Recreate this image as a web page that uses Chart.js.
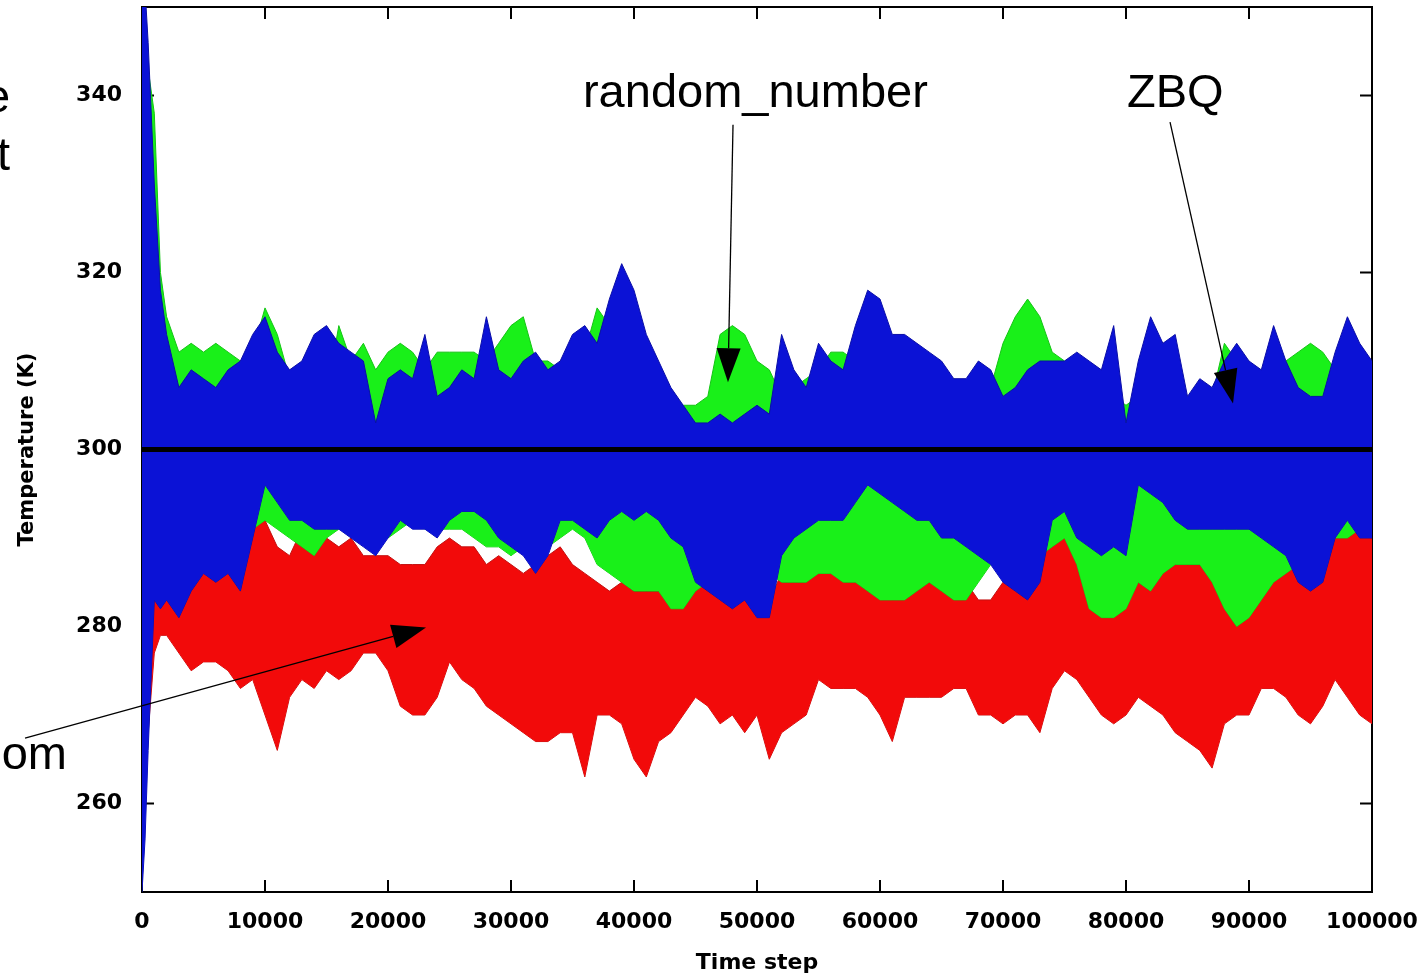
<!DOCTYPE html>
<html>
<head>
<meta charset="utf-8">
<script src="https://cdn.jsdelivr.net/npm/chart.js@4.4.1/dist/chart.umd.min.js"></script>
<style>
  html, body { margin: 0; padding: 0; background: #fff; overflow: hidden; }
  #wrap { width: 1470px; height: 979px; }
</style>
</head>
<body>
<div id="wrap"><canvas id="tempGraph" width="1470" height="979"></canvas></div>
<script>
// time steps (x) and upper/lower envelopes of each noisy trace
const steps = [0, 250, 500, 1000, 1500,
  2000, 3000, 4000, 5000, 6000, 7000, 8000, 9000, 10000, 11000,
  12000, 13000, 14000, 15000, 16000, 17000, 18000, 19000, 20000, 21000,
  22000, 23000, 24000, 25000, 26000, 27000, 28000, 29000, 30000, 31000,
  32000, 33000, 34000, 35000, 36000, 37000, 38000, 39000, 40000, 41000,
  42000, 43000, 44000, 45000, 46000, 47000, 48000, 49000, 50000, 51000,
  52000, 53000, 54000, 55000, 56000, 57000, 58000, 59000, 60000, 61000,
  62000, 63000, 64000, 65000, 66000, 67000, 68000, 69000, 70000, 71000,
  72000, 73000, 74000, 75000, 76000, 77000, 78000, 79000, 80000, 81000,
  82000, 83000, 84000, 85000, 86000, 87000, 88000, 89000, 90000, 91000,
  92000, 93000, 94000, 95000, 96000, 97000, 98000, 99000, 100000];

// ZBQ (blue)
const blueHi = [352, 352, 346, 330, 318,
  313, 307, 309, 308, 307, 309, 310, 313, 315, 311,
  309, 310, 313, 314, 312, 311, 310, 303, 308, 309,
  308, 313, 306, 307, 309, 308, 315, 309, 308, 310,
  311, 309, 310, 313, 314, 312, 317, 321, 318, 313,
  310, 307, 305, 303, 303, 304, 303, 304, 305, 304,
  313, 309, 307, 312, 310, 309, 314, 318, 317, 313,
  313, 312, 311, 310, 308, 308, 310, 309, 306, 307,
  309, 310, 310, 310, 311, 310, 309, 314, 303, 310,
  315, 312, 313, 306, 308, 307, 310, 312, 310, 309,
  314, 310, 307, 306, 306, 311, 315, 312, 310];
const blueLo = [250, 256, 266, 283, 282,
  283, 281, 284, 286, 285, 286, 284, 290, 296, 294,
  292, 292, 291, 291, 291, 290, 289, 288, 290, 292,
  291, 291, 290, 292, 293, 293, 292, 290, 289, 288,
  286, 288, 292, 292, 291, 290, 292, 293, 292, 293,
  292, 290, 289, 285, 284, 283, 282, 283, 281, 281,
  288, 290, 291, 292, 292, 292, 294, 296, 295, 294,
  293, 292, 292, 290, 290, 289, 288, 287, 285, 284,
  283, 285, 292, 293, 290, 289, 288, 289, 288, 296,
  295, 294, 292, 291, 291, 291, 291, 291, 291, 290,
  289, 288, 285, 284, 285, 290, 292, 290, 290];

// random_number (green)
const greenHi = [300, 338, 343, 338, 320,
  315, 311, 312, 311, 312, 311, 310, 311, 316, 313,
  308, 306, 307, 306, 314, 310, 312, 309, 311, 312,
  311, 309, 311, 311, 311, 311, 310, 312, 314, 315,
  310, 310, 309, 310, 311, 316, 314, 313, 312, 309,
  308, 306, 305, 305, 306, 313, 314, 313, 310, 309,
  306, 307, 308, 309, 311, 311, 310, 311, 310, 310,
  309, 309, 309, 308, 308, 307, 307, 307, 312, 315,
  317, 315, 311, 310, 310, 308, 307, 306, 305, 306,
  307, 306, 306, 305, 306, 306, 312, 310, 308, 307,
  308, 310, 311, 312, 311, 309, 309, 310, 310];
const greenLo = [256, 262, 272, 286, 288,
  289, 289, 290, 291, 291, 290, 290, 291, 292, 291,
  290, 289, 288, 290, 291, 291, 290, 291, 290, 291,
  292, 291, 291, 291, 291, 290, 289, 289, 288, 289,
  289, 289, 290, 291, 290, 287, 286, 285, 284, 284,
  284, 282, 282, 284, 285, 286, 287, 288, 288, 286,
  285, 285, 285, 286, 286, 285, 285, 284, 283, 283,
  283, 284, 285, 284, 283, 283, 285, 287, 288, 288,
  288, 288, 289, 290, 287, 282, 281, 281, 282, 285,
  284, 286, 287, 287, 287, 285, 282, 280, 281, 283,
  285, 286, 287, 288, 289, 290, 290, 291, 292];

// random (red)
const redHi = [263, 268, 285, 296, 296,
  295, 292, 291, 290, 291, 290, 291, 292, 292, 289,
  288, 291, 292, 290, 289, 290, 288, 288, 288, 287,
  287, 287, 289, 290, 289, 289, 287, 288, 287, 286,
  287, 288, 289, 287, 286, 285, 284, 285, 284, 284,
  284, 285, 286, 286, 285, 284, 284, 283, 283, 283,
  286, 286, 286, 286, 287, 286, 287, 290, 291, 287,
  286, 288, 288, 287, 285, 285, 283, 283, 285, 287,
  287, 287, 291, 292, 291, 285, 284, 284, 285, 285,
  284, 287, 288, 287, 287, 286, 284, 283, 283, 285,
  289, 288, 289, 289, 288, 290, 292, 291, 290];
const redLo = [258, 259, 268, 277, 279,
  279, 277, 275, 276, 276, 275, 273, 274, 270, 266,
  272, 274, 273, 275, 274, 275, 277, 277, 275, 271,
  270, 270, 272, 276, 274, 273, 271, 270, 269, 268,
  267, 267, 268, 268, 263, 270, 270, 269, 265, 263,
  267, 268, 270, 272, 271, 269, 270, 268, 270, 265,
  268, 269, 270, 274, 273, 273, 273, 272, 270, 267,
  272, 272, 272, 272, 273, 273, 270, 270, 269, 270,
  270, 268, 273, 275, 274, 272, 270, 269, 270, 272,
  271, 270, 268, 267, 266, 264, 269, 270, 270, 273,
  273, 272, 270, 269, 271, 274, 272, 270, 269];

const targetTemp = 300;
const xTicks = [0, 10000, 20000, 30000, 40000, 50000, 60000, 70000, 80000, 90000, 100000];
const yTicks = [260, 280, 300, 320, 340];

// labels and arrows, given in axis units (time step, K)
const notes = [
  { text: 'random_number', x: 35850, y: 338.7, align: 'left' },
  { text: 'ZBQ', x: 80080, y: 338.7, align: 'left' },
  { text: 'random', x: -6100, y: 263.9, align: 'right' },
  { text: 'temperature', x: -10730, y: 338.1, align: 'right' },
  { text: 'target', x: -10730, y: 331.6, align: 'right' }
];
const arrows = [
  { from: [48050, 336.7], to: [47640, 307.6] },
  { from: [83580, 337.0], to: [88700, 305.2] },
  { from: [-9510, 267.4], to: [23090, 279.9] }
];

const pts = ys => steps.map((s, i) => ({ x: s, y: ys[i] }));
const band = (hi, lo, fillCol, edgeCol) => [
  { data: pts(hi), backgroundColor: fillCol, borderColor: edgeCol, borderWidth: 1, fill: '+1' },
  { data: pts(lo), backgroundColor: fillCol, borderColor: edgeCol, borderWidth: 1, fill: false }
];

const frame = {
  id: 'frame',
  beforeDatasetsDraw(chart) {
    const { ctx, chartArea: a, scales: { x, y } } = chart;
    ctx.save();
    ctx.strokeStyle = '#000';
    ctx.lineWidth = 2;
    ctx.strokeRect(a.left, a.top, a.right - a.left, a.bottom - a.top);
    ctx.beginPath();
    xTicks.forEach(v => {
      const px = x.getPixelForValue(v);
      ctx.moveTo(px, a.bottom); ctx.lineTo(px, a.bottom - 12);
      ctx.moveTo(px, a.top); ctx.lineTo(px, a.top + 12);
    });
    yTicks.forEach(v => {
      const py = y.getPixelForValue(v);
      ctx.moveTo(a.left, py); ctx.lineTo(a.left + 12, py);
      ctx.moveTo(a.right, py); ctx.lineTo(a.right - 12, py);
    });
    ctx.stroke();
    ctx.restore();
  },
  afterDraw(chart) {
    const { ctx, scales: { x, y } } = chart;
    ctx.save();
    ctx.fillStyle = '#000';
    ctx.strokeStyle = '#000';
    ctx.font = '47px "Liberation Sans", Arial, sans-serif';
    ctx.textBaseline = 'alphabetic';
    notes.forEach(n => {
      ctx.textAlign = n.align;
      ctx.fillText(n.text, x.getPixelForValue(n.x), y.getPixelForValue(n.y));
    });
    arrows.forEach(ar => {
      const x0 = x.getPixelForValue(ar.from[0]), y0 = y.getPixelForValue(ar.from[1]);
      const x1 = x.getPixelForValue(ar.to[0]), y1 = y.getPixelForValue(ar.to[1]);
      const ang = Math.atan2(y1 - y0, x1 - x0);
      const len = 34, half = 12;
      const bx = x1 - len * Math.cos(ang), by = y1 - len * Math.sin(ang);
      ctx.lineWidth = 1.3;
      ctx.beginPath();
      ctx.moveTo(x0, y0); ctx.lineTo(bx, by);
      ctx.stroke();
      ctx.beginPath();
      ctx.moveTo(x1, y1);
      ctx.lineTo(bx + half * Math.sin(ang), by - half * Math.cos(ang));
      ctx.lineTo(bx - half * Math.sin(ang), by + half * Math.cos(ang));
      ctx.closePath();
      ctx.fill();
    });
    ctx.restore();
  }
};

const ctx = document.getElementById('tempGraph').getContext('2d');
new Chart(ctx, {
  type: 'line',
  data: {
    datasets: [
      { data: [{ x: 0, y: targetTemp }, { x: 100000, y: targetTemp }], borderColor: '#000', borderWidth: 5, fill: false },
      ...band(blueHi, blueLo, '#0b12d6', '#0a0ea8'),
      ...band(greenHi, greenLo, '#19f019', '#14c414'),
      ...band(redHi, redLo, '#f20a0a', '#c41010')
    ]
  },
  options: {
    responsive: false,
    animation: false,
    devicePixelRatio: 1,
    layout: { autoPadding: false, padding: { left: 0, top: 7, right: 98, bottom: 0 } },
    elements: { point: { radius: 0 }, line: { tension: 0 } },
    plugins: { legend: { display: false }, tooltip: { enabled: false } },
    scales: {
      x: {
        type: 'linear', min: 0, max: 100000,
        grid: { display: false }, border: { display: false },
        afterBuildTicks: a => { a.ticks = xTicks.map(v => ({ value: v })); },
        afterFit: a => { a.height = 87; a.paddingLeft = 0; a.paddingRight = 0; },
        ticks: {
          color: '#000', padding: 9, maxRotation: 0, autoSkip: false,
          font: { family: 'DejaVu Sans', weight: 'bold', size: 22 },
          callback: v => String(v)
        },
        title: {
          display: true, text: 'Time step', color: '#000',
          font: { family: 'DejaVu Sans', weight: 'bold', size: 22 },
          padding: { top: 0, bottom: 3 }
        }
      },
      y: {
        min: 250, max: 350,
        grid: { display: false }, border: { display: false },
        afterBuildTicks: a => { a.ticks = yTicks.map(v => ({ value: v })); },
        afterFit: a => { a.width = 142; a.paddingTop = 0; a.paddingBottom = 0; },
        ticks: {
          color: '#000', padding: 12,
          font: { family: 'DejaVu Sans', weight: 'bold', size: 22 },
          callback: v => String(v)
        },
        title: {
          display: true, text: 'Temperature (K)', color: '#000',
          font: { family: 'DejaVu Sans', weight: 'bold', size: 21 },
          padding: { top: 15, bottom: 0 }
        }
      }
    }
  },
  plugins: [frame]
});
</script>
</body>
</html>
